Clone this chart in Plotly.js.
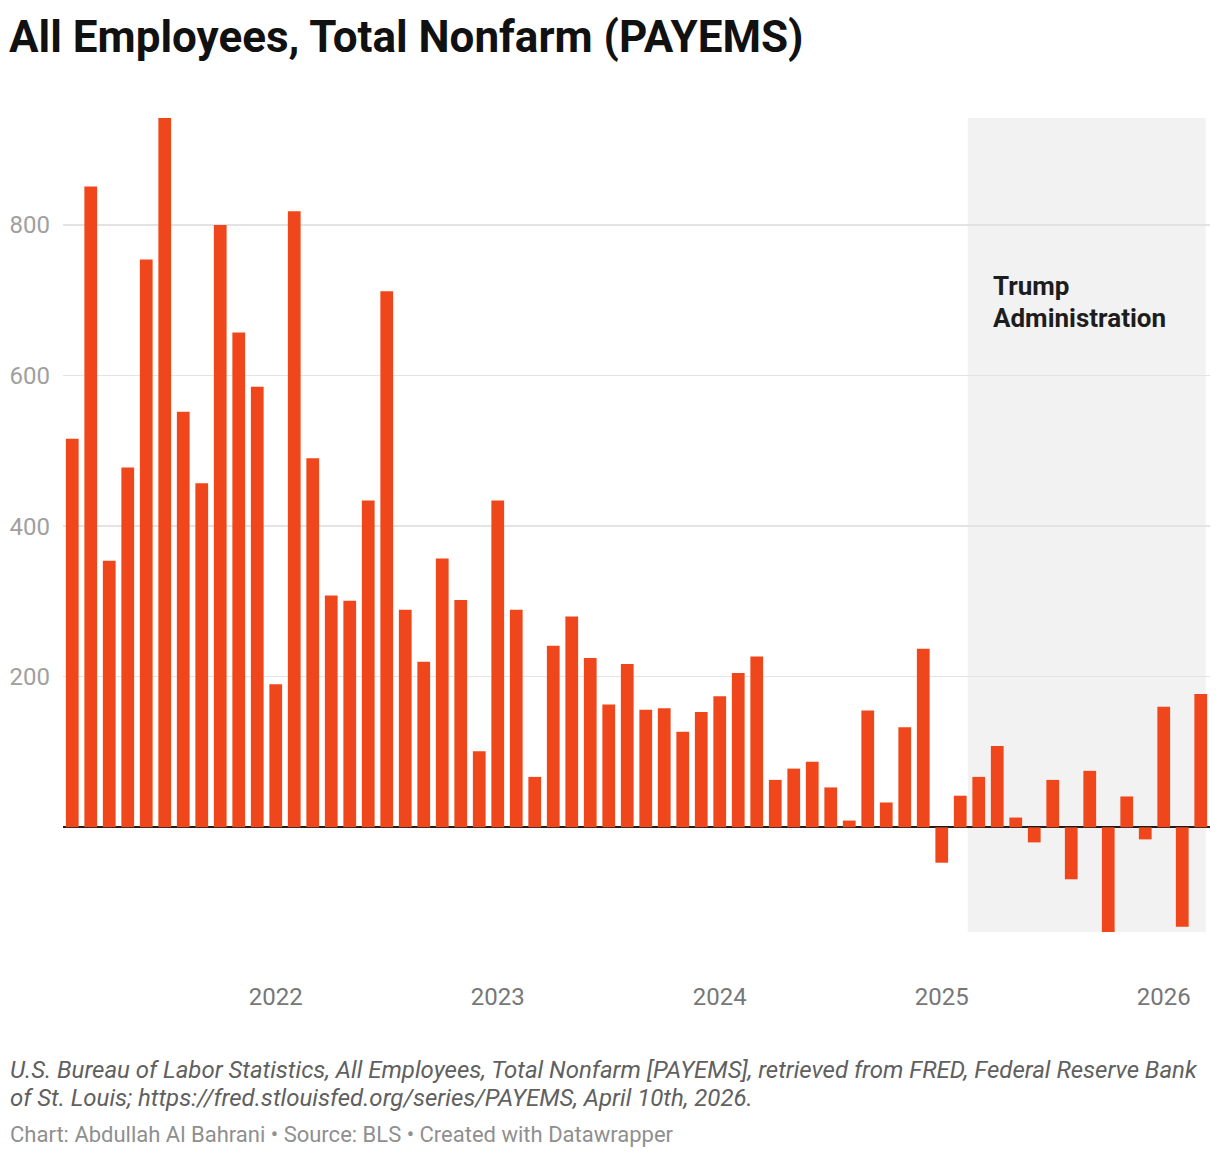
<!DOCTYPE html>
<html>
<head>
<meta charset="utf-8">
<script src="https://cdn.plot.ly/plotly-3.0.1.min.js"></script>
<style>html,body{margin:0;padding:0;background:#fff;}#chart{width:1220px;height:1158px;}</style>
</head>
<body>
<div id="chart"></div>
<script>
const months = [
  "2021-02","2021-03","2021-04","2021-05","2021-06","2021-07","2021-08","2021-09","2021-10","2021-11","2021-12",
  "2022-01","2022-02","2022-03","2022-04","2022-05","2022-06","2022-07","2022-08","2022-09","2022-10","2022-11","2022-12",
  "2023-01","2023-02","2023-03","2023-04","2023-05","2023-06","2023-07","2023-08","2023-09","2023-10","2023-11","2023-12",
  "2024-01","2024-02","2024-03","2024-04","2024-05","2024-06","2024-07","2024-08","2024-09","2024-10","2024-11","2024-12",
  "2025-01","2025-02","2025-03","2025-04","2025-05","2025-06","2025-07","2025-08","2025-09","2025-10","2025-11","2025-12",
  "2026-01","2026-02","2026-03"
];
const jobChanges = [
  516, 851, 354, 478, 754, 942, 552, 457, 800, 657, 585,
  190, 818, 490, 308, 301, 434, 712, 289, 220, 357, 302, 101,
  434, 289, 67, 241, 280, 225, 163, 217, 156, 158, 127, 153,
  174, 205, 227, 63, 78, 87, 53, 9, 155, 33, 133, 237,
  -47, 42, 67, 108, 13, -20, 63, -69, 75, -139, 41, -16,
  160, -132, 177
];
const yTickVals = [200, 400, 600, 800];
const yTickText = ["200", "400", "600", "800"];
const xTickVals = ["2022-01","2023-01","2024-01","2025-01","2026-01"];
const xTickText = ["2022","2023","2024","2025","2026"];

const W = 1220, H = 1158;
const M = {l: 63, r: 10, t: 118, b: 226};
const plotW = W - M.l - M.r, plotH = H - M.t - M.b;
const px = p => (p - M.l) / plotW;
const py = p => (H - M.b - p) / plotH;

const trace = {
  type: 'bar',
  x: months,
  y: jobChanges,
  marker: {color: '#f0461b', line: {width: 0}},
  hoverinfo: 'x+y'
};

const layout = {
  width: W, height: H,
  margin: M,
  paper_bgcolor: '#ffffff',
  plot_bgcolor: '#ffffff',
  bargap: 0.31,
  showlegend: false,
  font: {family: 'Roboto, sans-serif'},
  title: {
    text: 'All Employees, Total Nonfarm (PAYEMS)',
    font: {family: 'Roboto, sans-serif', size: 44, weight: 700, color: '#111111'},
    x: 9 / W, xref: 'container', xanchor: 'left',
    y: 1 - 37 / H, yref: 'container', yanchor: 'middle'
  },
  xaxis: {
    type: 'category',
    range: [-0.5, months.length - 0.5],
    tickmode: 'array',
    tickvals: xTickVals,
    ticktext: xTickText,
    ticks: '',
    showgrid: false,
    showline: false,
    zeroline: false,
    tickfont: {family: 'Roboto, sans-serif', size: 24, color: '#777777'},
    ticklabelstandoff: 48,
    fixedrange: true
  },
  yaxis: {
    range: [Math.min(...jobChanges), Math.max(...jobChanges)],
    tickmode: 'array',
    tickvals: yTickVals,
    ticktext: yTickText,
    ticks: '',
    showgrid: true,
    gridcolor: '#e3e3e3',
    gridwidth: 1.5,
    zeroline: true,
    zerolinecolor: '#1d1d1d',
    zerolinewidth: 2,
    showline: false,
    tickfont: {family: 'Roboto, sans-serif', size: 24, color: '#a0a0a0'},
    ticklabelstandoff: 12,
    fixedrange: true
  },
  shapes: [{
    type: 'rect', layer: 'below',
    xref: 'x', yref: 'paper',
    x0: 48.4, x1: 61.27, y0: 0, y1: 1,
    fillcolor: '#f2f2f2', line: {width: 0}
  }],
  annotations: [
    {text: 'Trump', xref: 'paper', yref: 'paper', x: px(991), y: py(286), xanchor: 'left', yanchor: 'middle', showarrow: false,
     font: {family: 'Roboto, sans-serif', size: 26, weight: 700, color: '#1d1d1d'}},
    {text: 'Administration', xref: 'paper', yref: 'paper', x: px(991), y: py(318), xanchor: 'left', yanchor: 'middle', showarrow: false,
     font: {family: 'Roboto, sans-serif', size: 26, weight: 700, color: '#1d1d1d'}},
    {text: 'U.S. Bureau of Labor Statistics, All Employees, Total Nonfarm [PAYEMS], retrieved from FRED, Federal Reserve Bank',
     xref: 'paper', yref: 'paper', x: px(8), y: py(1070), xanchor: 'left', yanchor: 'middle', showarrow: false,
     font: {family: 'Roboto, sans-serif', size: 24, style: 'italic', color: '#606060'}},
    {text: 'of St. Louis; https://fred.stlouisfed.org/series/PAYEMS, April 10th, 2026.',
     xref: 'paper', yref: 'paper', x: px(8), y: py(1098), xanchor: 'left', yanchor: 'middle', showarrow: false,
     font: {family: 'Roboto, sans-serif', size: 24, style: 'italic', color: '#606060'}},
    {text: 'Chart: Abdullah Al Bahrani • Source: BLS • Created with Datawrapper',
     xref: 'paper', yref: 'paper', x: px(8), y: py(1134), xanchor: 'left', yanchor: 'middle', showarrow: false,
     font: {family: 'Roboto, sans-serif', size: 22, color: '#8f8f8f'}}
  ]
};

Plotly.newPlot('chart', [trace], layout, {displayModeBar: false, staticPlot: true});
</script>
</body>
</html>
